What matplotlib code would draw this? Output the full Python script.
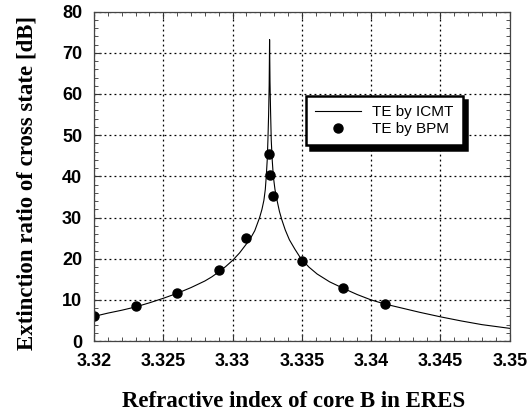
#!/usr/bin/env python

"""Extinction ratio of the cross state versus refractive index of core B."""

import matplotlib as mpl
mpl.use('Agg')
from matplotlib import pyplot as plt
from matplotlib.ticker import MultipleLocator


# ICMT curve
icmt_n = [
    3.3200, 3.3210, 3.3220, 3.3230, 3.3240, 3.3250, 3.3260, 3.3270,
    3.3280, 3.3285, 3.3290, 3.3295, 3.3300, 3.3305, 3.3310, 3.3313,
    3.3316, 3.33195, 3.33212, 3.33226, 3.33236, 3.33243, 3.33250,
    3.33255, 3.33260, 3.33264, 3.33267,
    3.33270, 3.33274, 3.33279, 3.33286, 3.33294, 3.33306, 3.33322,
    3.33338, 3.33355, 3.3338, 3.3341, 3.3345, 3.3349, 3.3355, 3.3361,
    3.3370, 3.3380, 3.3390, 3.3400, 3.3410, 3.3420, 3.3435, 3.3450,
    3.3465, 3.3480, 3.3500,
]
icmt_er = [
    6.0, 6.8, 7.5, 8.3, 9.3, 10.4, 11.6, 13.0,
    14.6, 15.6, 16.8, 18.1, 19.6, 21.4, 23.6, 25.0,
    26.8, 30.0, 32.0, 34.2, 36.8, 40.0, 44.0,
    48.8, 55.0, 62.0, 73.2,
    63.0, 56.0, 48.8, 44.0, 40.0, 36.8, 34.0,
    31.5, 29.5, 27.0, 24.6, 22.3, 20.2, 18.0, 16.3,
    14.4, 12.8, 11.3, 10.0, 9.0, 8.2, 7.0, 5.9,
    4.9, 4.0, 3.1,
]

# BPM points
bpm_n = [3.320, 3.323, 3.326, 3.329, 3.331, 3.3326, 3.3327, 3.3329,
         3.335, 3.338, 3.341]
bpm_er = [6.1, 8.5, 11.7, 17.2, 25.0, 45.4, 40.3, 35.2, 19.4, 12.8, 9.0]

x_ticks = [3.32, 3.325, 3.33, 3.335, 3.34, 3.345, 3.35]
x_tick_labels = ['3.32', '3.325', '3.33', '3.335', '3.34', '3.345', '3.35']


fig = plt.figure(figsize=(5.31, 4.15), dpi=100)
ax = fig.add_axes([0.177, 0.178, 0.783, 0.794])

ax.plot(icmt_n, icmt_er, color='black', lw=0.8, label='TE by ICMT')
ax.plot(bpm_n, bpm_er, ls='none', marker='o', ms=6.5, color='black',
        label='TE by BPM')

ax.set_xlim(3.32, 3.35)
ax.set_ylim(0, 80)
ax.set_xticks(x_ticks)
ax.set_xticklabels(x_tick_labels)
ax.xaxis.set_minor_locator(MultipleLocator(0.001))
ax.yaxis.set_major_locator(MultipleLocator(10))
ax.yaxis.set_minor_locator(MultipleLocator(2))

ax.grid(True, which='major', ls=(0, (1.5, 2.5)), color='black', lw=0.9)
ax.tick_params(which='both', direction='in', top=True, right=True,
               labelsize=13, pad=8.5, color='#333333')
ax.tick_params(which='major', length=5)
ax.tick_params(which='minor', length=3)
for lab in ax.get_xticklabels() + ax.get_yticklabels():
    lab.set_fontweight('bold')
    lab.set_family('Liberation Sans')
for sp in ax.spines.values():
    sp.set_color('#444444')
    sp.set_linewidth(0.9)

ax.set_xlabel('Refractive index of core B in ERES', family='Liberation Serif',
              fontweight='bold', fontsize=16.5)
ax.set_ylabel('Extinction ratio of cross state [dB]', family='Liberation Serif',
              fontweight='bold', fontsize=16.5)
ax.xaxis.set_label_coords(0.48, -0.15)
ax.yaxis.set_label_coords(-0.137, 0.48)

leg = ax.legend(loc='upper left', bbox_to_anchor=(0.51, 0.744),
                borderaxespad=0, fancybox=False, framealpha=1,
                edgecolor='black',
                prop={'family': 'Liberation Sans', 'size': 11},
                handlelength=3.0, handletextpad=0.75, borderpad=0.6,
                labelspacing=0.2,
                shadow={'ox': 3, 'oy': -3, 'facecolor': 'black',
                        'edgecolor': 'black', 'alpha': 1})
leg.get_frame().set_linewidth(1.8)

fig.savefig('out.png', dpi=100)
